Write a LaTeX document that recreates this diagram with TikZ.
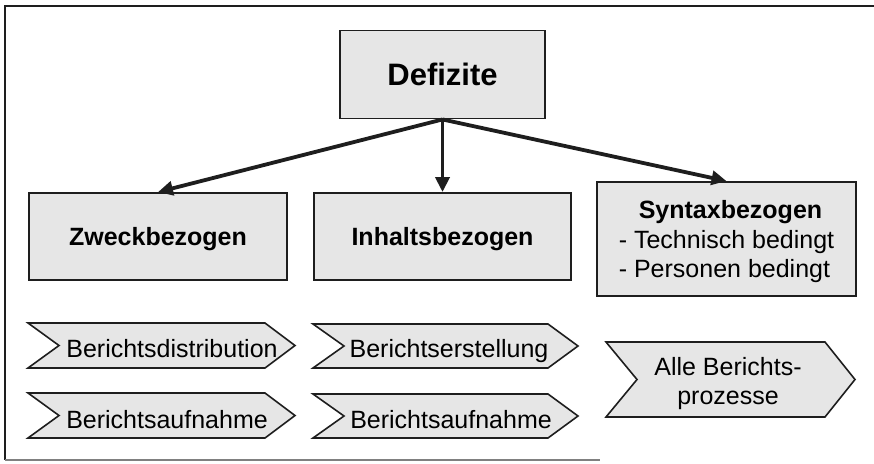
\documentclass[tikz,border=0pt]{standalone}
\usepackage{fontspec}
\setmainfont{Liberation Sans}
\usetikzlibrary{arrows.meta}
\definecolor{boxfill}{HTML}{E6E6E6}
\definecolor{edge}{HTML}{1E1E1E}
\newcommand\mychev[4]{%
  \draw[chev] (#1,#2) -- ({#3-30},#2) -- (#3,{(#2+#4)/2}) -- ({#3-30},#4)
    -- (#1,#4) -- ({#1+31},{(#2+#4)/2}) -- cycle;}
\begin{document}
\begin{tikzpicture}[x=1pt,y=-1pt,
  box/.style={draw=edge,line width=1.9pt,fill=boxfill,inner sep=0pt,align=center,
    text depth=0pt,font=\fontsize{25}{29.5}\selectfont\bfseries},
  chev/.style={draw=edge,line width=1.6pt,fill=boxfill,line join=miter},
  lbl/.style={inner sep=0pt,align=center,font=\fontsize{25}{29.5}\selectfont},
  arr/.style={draw=edge,line width=3.8pt,-{Triangle[length=15pt,width=14pt]}}]
\useasboundingbox (0,0) rectangle (874,463);
% frame
\draw[edge,line width=2pt] (874,6) -- (5,6) -- (5,460);
\draw[gray,line width=1.5pt] (5,460) -- (600,460);
% boxes
\node[box,minimum width=205pt,minimum height=88pt,
  font=\fontsize{31}{36}\selectfont\bfseries] (def) at (442.5,74.5) {Defizite};
\node[box,minimum width=258pt,minimum height=87pt] (zweck) at (158,236.5) {Zweckbezogen};
\node[box,minimum width=257pt,minimum height=87pt] (inhalt) at (442.5,236.5) {Inhaltsbezogen};
\node[box,minimum width=259pt,minimum height=114pt,align=left,
  font=\fontsize{25}{29.5}\selectfont] (syntax) at (726.5,239)
  {\hspace*{20pt}\textbf{Syntaxbezogen}\\- Technisch bedingt\\- Personen bedingt};
% arrows
\draw[arr] (def.south) -- (zweck.north);
\draw[arr] (def.south) -- (inhalt.north);
\draw[arr] (def.south) -- (syntax.north);
% chevrons
\mychev{28}{323}{295}{368}
\mychev{28}{393}{295}{438}
\mychev{313}{324}{578}{368}
\mychev{313}{394}{578}{438}
\mychev{606}{342}{855}{417}
\node[lbl,anchor=base] (c1) at (172,357) {Berichtsdistribution};
\node[lbl,anchor=base] (c2) at (167,428) {Berichtsaufnahme};
\node[lbl,anchor=base] (c3) at (449,357) {Berichtserstellung};
\node[lbl,anchor=base] (c4) at (451,428) {Berichtsaufnahme};
\node[lbl,text depth=0pt] (c5) at (728,381) {Alle Berichts-\\prozesse};
\end{tikzpicture}
\end{document}
